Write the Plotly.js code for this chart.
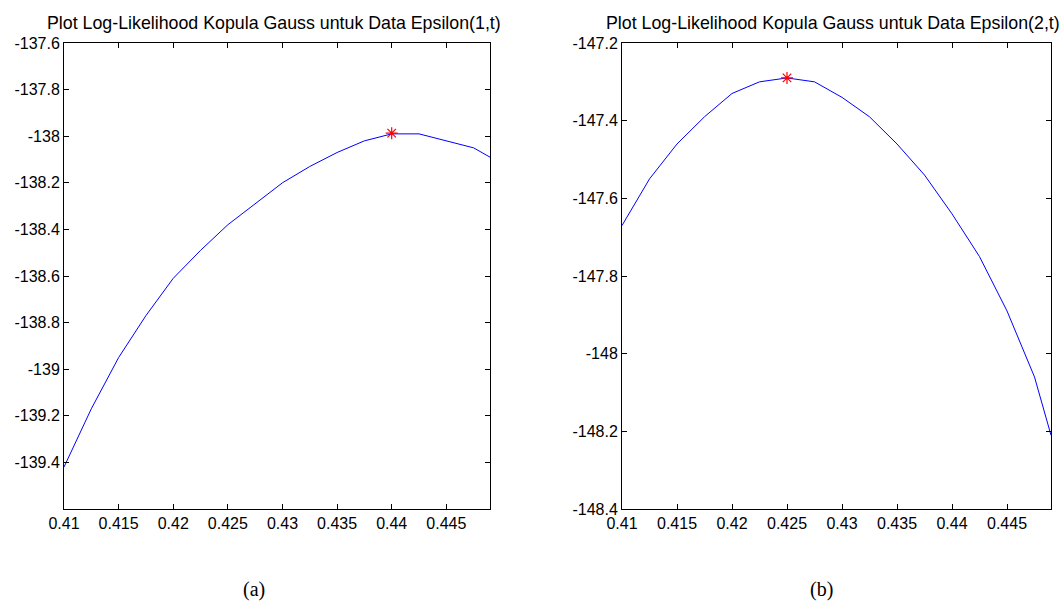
<!DOCTYPE html>
<html>
<head>
<meta charset="utf-8">
<script src="https://cdn.plot.ly/plotly-3.0.1.min.js"></script>
<style>
  html, body { margin: 0; padding: 0; background: #fff; }
  #chart { width: 1063px; height: 603px; }
</style>
</head>
<body>
<div id="chart"></div>
<script>
// ---- data ----
const rhoA = [0.41, 0.4125, 0.415, 0.4175, 0.42, 0.4225, 0.425, 0.4275, 0.43, 0.4325, 0.435, 0.4375, 0.44, 0.4425, 0.445, 0.4475, 0.449];
const llA  = [-139.42, -139.17, -138.95, -138.77, -138.61, -138.49, -138.38, -138.29, -138.20, -138.13, -138.07, -138.02, -137.99, -137.99, -138.02, -138.05, -138.09];
const rhoB = [0.41, 0.4125, 0.415, 0.4175, 0.42, 0.4225, 0.425, 0.4275, 0.43, 0.4325, 0.435, 0.4375, 0.44, 0.4425, 0.445, 0.4475, 0.449];
const llB  = [-147.67, -147.55, -147.46, -147.39, -147.33, -147.30, -147.29, -147.30, -147.34, -147.39, -147.46, -147.54, -147.64, -147.75, -147.89, -148.06, -148.21];
const maxA = {x: [0.44], y: [-137.987]};
const maxB = {x: [0.425], y: [-147.29]};

const xTickVals = [0.41, 0.415, 0.42, 0.425, 0.43, 0.435, 0.44, 0.445];
const xTickText = ["0.41", "0.415", "0.42", "0.425", "0.43", "0.435", "0.44", "0.445"];
const yTickValsA = [-137.6, -137.8, -138, -138.2, -138.4, -138.6, -138.8, -139, -139.2, -139.4];
const yTickTextA = ["-137.6", "-137.8", "-138", "-138.2", "-138.4", "-138.6", "-138.8", "-139", "-139.2", "-139.4"];
const yTickValsB = [-147.2, -147.4, -147.6, -147.8, -148, -148.2, -148.4];
const yTickTextB = ["-147.2", "-147.4", "-147.6", "-147.8", "-148", "-148.2", "-148.4"];

const titleA = "Plot Log-Likelihood Kopula Gauss untuk Data Epsilon(1,t)";
const titleB = "Plot Log-Likelihood Kopula Gauss untuk Data Epsilon(2,t)";
const captionA = "(a)";
const captionB = "(b)";

// ---- chart ----
const W = 1063, H = 603;
const FONT = "Liberation Sans, Arial, sans-serif";
const px = v => v / W;
const py = v => 1 - v / H;

const traces = [
  {x: rhoA, y: llA, type: "scatter", mode: "lines", line: {color: "#0000ff", width: 1}, xaxis: "x", yaxis: "y", hoverinfo: "x+y"},
  {x: maxA.x, y: maxA.y, type: "scatter", mode: "markers", marker: {symbol: "asterisk-open", color: "#ff0000", size: 10, line: {color: "#ff0000", width: 1.2}}, xaxis: "x", yaxis: "y"},
  {x: rhoB, y: llB, type: "scatter", mode: "lines", line: {color: "#0000ff", width: 1}, xaxis: "x2", yaxis: "y2", hoverinfo: "x+y"},
  {x: maxB.x, y: maxB.y, type: "scatter", mode: "markers", marker: {symbol: "asterisk-open", color: "#ff0000", size: 10, line: {color: "#ff0000", width: 1.2}}, xaxis: "x2", yaxis: "y2"}
];

const axisCommon = {
  showgrid: false, zeroline: false, showline: true, linecolor: "#000", linewidth: 1,
  mirror: "allticks", ticks: "inside", ticklen: 5, tickcolor: "#000", tickwidth: 1,
  tickmode: "array", tickfont: {family: FONT, size: 16, color: "#000"}
};

const layout = {
  width: W, height: H,
  margin: {l: 0, r: 0, t: 0, b: 0},
  paper_bgcolor: "#fff", plot_bgcolor: "#fff",
  showlegend: false,
  xaxis: Object.assign({}, axisCommon, {domain: [px(64), px(490)], range: [0.41, 0.449], tickvals: xTickVals, ticktext: xTickText, anchor: "y"}),
  yaxis: Object.assign({}, axisCommon, {domain: [py(509), py(43)], range: [-139.6, -137.6], tickvals: yTickValsA, ticktext: yTickTextA, anchor: "x"}),
  xaxis2: Object.assign({}, axisCommon, {domain: [px(622), px(1051)], range: [0.41, 0.449], tickvals: xTickVals, ticktext: xTickText, anchor: "y2"}),
  yaxis2: Object.assign({}, axisCommon, {domain: [py(509), py(43)], range: [-148.4, -147.2], tickvals: yTickValsB, ticktext: yTickTextB, anchor: "x2"}),
  annotations: [
    {text: titleA, xref: "paper", yref: "paper", x: px(274), y: py(23), xanchor: "center", yanchor: "middle", showarrow: false, font: {family: FONT, size: 17.8, color: "#000"}},
    {text: titleB, xref: "paper", yref: "paper", x: px(833), y: py(23), xanchor: "center", yanchor: "middle", showarrow: false, font: {family: FONT, size: 17.8, color: "#000"}},
    {text: captionA, xref: "paper", yref: "paper", x: px(254), y: py(589), xanchor: "center", yanchor: "middle", showarrow: false, font: {family: "Liberation Serif, Times New Roman, serif", size: 20, color: "#000"}},
    {text: captionB, xref: "paper", yref: "paper", x: px(821), y: py(589), xanchor: "center", yanchor: "middle", showarrow: false, font: {family: "Liberation Serif, Times New Roman, serif", size: 20, color: "#000"}}
  ]
};

Plotly.newPlot("chart", traces, layout, {staticPlot: true, displayModeBar: false});
</script>
</body>
</html>
